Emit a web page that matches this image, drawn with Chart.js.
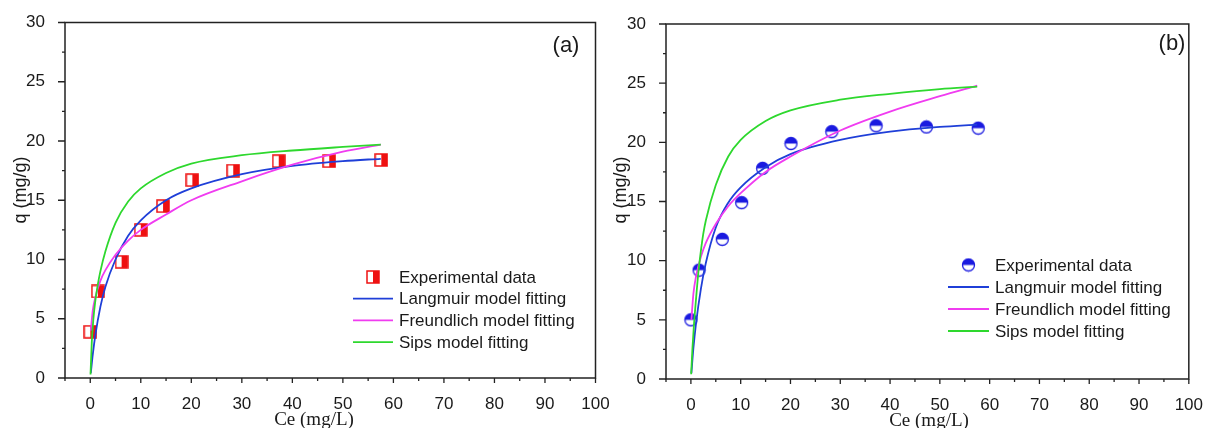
<!DOCTYPE html>
<html>
<head>
<meta charset="utf-8">
<script src="https://cdn.jsdelivr.net/npm/chart.js@4.4.0/dist/chart.umd.min.js"></script>
<style>
  body { margin: 0; background: #fff; }
  #wrap { position: relative; width: 1211px; height: 428px; overflow: hidden; }
  #chartA { position: absolute; left: 0; top: 0; }
  #chartB { position: absolute; left: 600px; top: 0; }
</style>
</head>
<body>
<div id="wrap">
  <canvas id="chartA" width="620" height="428"></canvas>
  <canvas id="chartB" width="611" height="428"></canvas>
</div>
<script>
// panel (a) - experimental points
const ceA = [0, 1.5, 6.2, 10.0, 14.4, 20.2, 28.3, 37.3, 47.3, 57.6];
const qExpA = [3.9, 7.3, 9.8, 12.5, 14.5, 16.7, 17.5, 18.3, 18.3, 18.4];
// panel (a) - fitted curves
const fitCeA = [0.1, 0.5, 1, 2, 3, 5, 7.5, 10, 15, 20, 30, 40, 50, 57.5];
const langA = [0.4, 2.0, 3.6, 6.0, 7.7, 10.0, 12.0, 13.3, 15.0, 16.0, 17.2, 17.9, 18.3, 18.5];
const freuA = [4.0, 5.7, 6.8, 8.2, 9.1, 10.4, 11.6, 12.5, 13.8, 15.0, 16.6, 18.0, 19.1, 19.7];
const sipsCeA = [0.05, 0.3, 0.6, 1, 1.5, 2, 3, 5, 7.5, 10, 15, 20, 30, 40, 50, 57.5];
const sipsA = [0.3, 3.0, 4.9, 6.5, 7.9, 9.0, 10.7, 13.1, 14.9, 16.0, 17.3, 18.1, 18.8, 19.2, 19.5, 19.7];

// panel (b) - experimental points
const ceB = [0, 1.65, 6.3, 10.2, 14.4, 20.1, 28.3, 37.2, 47.3, 57.7];
const qExpB = [5.0, 9.2, 11.8, 14.9, 17.8, 19.9, 20.9, 21.4, 21.3, 21.2];
// panel (b) - fitted curves
const fitCeB = [0.1, 0.5, 1, 2, 3, 5, 7.5, 10, 15, 20, 30, 40, 50, 57.5];
const langB = [0.5, 2.6, 4.6, 7.6, 9.8, 12.8, 14.9, 16.2, 17.9, 19.0, 20.2, 20.9, 21.3, 21.5];
const freuB = [5.0, 7.2, 8.6, 10.3, 11.5, 13.1, 14.6, 15.7, 17.5, 18.8, 21.0, 22.6, 23.9, 24.8];
const sipsCeB = [0.05, 0.3, 0.6, 1, 1.5, 2, 2.5, 3, 5, 7.5, 10, 15, 20, 30, 40, 50, 57.5];
const sipsB = [0.4, 2.5, 4.5, 6.6, 9.0, 10.8, 12.3, 13.4, 16.4, 18.8, 20.2, 21.8, 22.7, 23.6, 24.1, 24.5, 24.7];

const seriesNames = ["Experimental data", "Langmuir model fitting", "Freundlich model fitting", "Sips model fitting"];
const xTicks = { min: -5, max: 100, step: 5 };
const yTicks = { min: 0, max: 30, step: 2.5 };

const SANS = '"Liberation Sans", Arial, sans-serif';
const SERIF = '"Liberation Serif", "Times New Roman", serif';

function pairs(xs, ys) {
  return xs.map((x, i) => ({ x: x, y: ys[i] }));
}

function squareMarker() {
  const c = document.createElement("canvas");
  c.width = 14; c.height = 14;
  const g = c.getContext("2d");
  g.fillStyle = "#fff";
  g.fillRect(1, 1, 12, 12);
  g.fillStyle = "#ee1111";
  g.fillRect(7, 1, 6, 12);
  g.strokeStyle = "#ee1111";
  g.lineWidth = 1.5;
  g.strokeRect(1, 1, 12, 12);
  return c;
}

function circleMarker() {
  const c = document.createElement("canvas");
  c.width = 15; c.height = 15;
  const g = c.getContext("2d");
  g.fillStyle = "#fff";
  g.beginPath(); g.arc(7.5, 7.5, 6, 0, Math.PI * 2); g.fill();
  g.fillStyle = "#1a1ae0";
  g.beginPath(); g.arc(7.5, 7.5, 6, Math.PI, Math.PI * 2); g.closePath(); g.fill();
  g.strokeStyle = "#1a1ae0";
  g.lineWidth = 1.3;
  g.beginPath(); g.arc(7.5, 7.5, 6, 0, Math.PI * 2); g.stroke();
  return c;
}

// box round the plot + outward major/minor ticks
const frameTicks = {
  id: "frameTicks",
  afterDraw(chart) {
    const { ctx, chartArea: a, scales } = chart;
    ctx.save();
    ctx.strokeStyle = "#222";
    ctx.lineWidth = 1.5;
    ctx.strokeRect(a.left, a.top, a.right - a.left, a.bottom - a.top);
    ctx.lineWidth = 1.3;
    ctx.beginPath();
    scales.x.ticks.forEach((t) => {
      const px = scales.x.getPixelForValue(t.value);
      const len = t.value % 10 === 0 ? 5 : 3;
      ctx.moveTo(px, a.bottom);
      ctx.lineTo(px, a.bottom + len);
    });
    scales.y.ticks.forEach((t) => {
      const py = scales.y.getPixelForValue(t.value);
      const len = t.value % 5 === 0 ? 7 : 3;
      ctx.moveTo(a.left, py);
      ctx.lineTo(a.left - len, py);
    });
    ctx.stroke();
    ctx.restore();
  },
};

// legend drawn inside the plot, lower right
const isoLegend = {
  id: "isoLegend",
  afterDraw(chart, args, opts) {
    const { ctx, chartArea: a } = chart;
    ctx.save();
    ctx.font = "17px " + SANS;
    ctx.fillStyle = "#1a1a1a";
    ctx.textBaseline = "middle";
    ctx.textAlign = "left";
    chart.data.datasets.forEach((d, i) => {
      const y = a.bottom - opts.bottom + i * opts.rowGap;
      const x0 = a.left + opts.left;
      if (d.showLine) {
        ctx.strokeStyle = d.borderColor;
        ctx.lineWidth = 1.8;
        ctx.beginPath();
        ctx.moveTo(x0, y);
        ctx.lineTo(x0 + opts.lineLen, y);
        ctx.stroke();
      } else {
        const m = d.pointStyle;
        ctx.drawImage(m, x0 + opts.lineLen / 2 - m.width / 2, y - m.height / 2);
      }
      ctx.fillText(d.label, x0 + opts.textOffset, y + 1);
    });
    ctx.restore();
  },
};

// axis titles and panel tag
const panelText = {
  id: "panelText",
  afterDraw(chart, args, opts) {
    const ctx = chart.ctx;
    ctx.save();
    ctx.fillStyle = "#1a1a1a";
    ctx.textAlign = "center";
    ctx.textBaseline = "middle";
    ctx.font = "19px " + SERIF;
    ctx.fillText("Ce (mg/L)", opts.xTitleX, opts.xTitleY);
    ctx.font = "22px " + SANS;
    ctx.fillText(opts.tag, opts.tagX, opts.tagY);
    ctx.translate(opts.yTitleX, opts.yTitleY);
    ctx.rotate(-Math.PI / 2);
    ctx.font = "18px " + SANS;
    ctx.fillText("q (mg/g)", 0, 0);
    ctx.restore();
  },
};

function makeChart(id, cfg) {
  const colors = ["#1f3fd8", "#f03cf0", "#2ed82e"];
  const datasets = [
    {
      label: seriesNames[0],
      data: pairs(cfg.ce, cfg.qExp),
      showLine: false,
      pointStyle: cfg.marker,
      pointRadius: 6,
      order: 10,
    },
  ];
  cfg.fits.forEach((f, i) => {
    datasets.push({
      label: seriesNames[i + 1],
      data: pairs(f.x, f.y),
      showLine: true,
      borderColor: colors[i],
      borderWidth: 1.8,
      pointRadius: 0,
      cubicInterpolationMode: "monotone",
      fill: false,
      order: 3 - i,
    });
  });

  return new Chart(document.getElementById(id), {
    type: "scatter",
    data: { datasets: datasets },
    plugins: [frameTicks, isoLegend, panelText],
    options: {
      responsive: false,
      animation: false,
      devicePixelRatio: 1,
      layout: { padding: { left: 0, top: cfg.top, right: cfg.right, bottom: 0 } },
      plugins: {
        legend: { display: false },
        tooltip: { enabled: false },
        isoLegend: cfg.legend,
        panelText: cfg.text,
      },
      scales: {
        x: {
          type: "linear",
          min: xTicks.min,
          max: xTicks.max,
          grid: { display: false },
          border: { display: false },
          afterFit: (s) => { s.height = cfg.xHeight; },
          ticks: {
            stepSize: xTicks.step,
            autoSkip: false,
            maxRotation: 0,
            padding: 8,
            color: "#1a1a1a",
            font: { family: SANS, size: 17 },
            callback: (v) => (v % 10 === 0 ? v : ""),
          },
        },
        y: {
          type: "linear",
          min: yTicks.min,
          max: yTicks.max,
          grid: { display: false },
          border: { display: false },
          afterFit: (s) => { s.width = cfg.yWidth; },
          ticks: {
            stepSize: yTicks.step,
            autoSkip: false,
            padding: 12,
            color: "#1a1a1a",
            font: { family: SANS, size: 17 },
            callback: (v) => (v % 5 === 0 ? v : ""),
          },
        },
      },
    },
  });
}

makeChart("chartA", {
  ce: ceA,
  qExp: qExpA,
  marker: squareMarker(),
  fits: [
    { x: fitCeA, y: langA },
    { x: fitCeA, y: freuA },
    { x: sipsCeA, y: sipsA },
  ],
  top: 22.5,
  right: 24.5,
  xHeight: 50,
  yWidth: 65,
  legend: { left: 288, bottom: 101, rowGap: 21.7, lineLen: 40, textOffset: 46 },
  text: { tag: "(a)", tagX: 566, tagY: 46, xTitleX: 314, xTitleY: 420, yTitleX: 21, yTitleY: 190 },
});

makeChart("chartB", {
  ce: ceB,
  qExp: qExpB,
  marker: circleMarker(),
  fits: [
    { x: fitCeB, y: langB },
    { x: fitCeB, y: freuB },
    { x: sipsCeB, y: sipsB },
  ],
  top: 24,
  right: 15,
  xHeight: 49,
  yWidth: 66,
  legend: { left: 282, bottom: 114, rowGap: 22, lineLen: 41, textOffset: 47 },
  text: { tag: "(b)", tagX: 572, tagY: 44, xTitleX: 329, xTitleY: 421, yTitleX: 21, yTitleY: 190 },
});
</script>
</body>
</html>
